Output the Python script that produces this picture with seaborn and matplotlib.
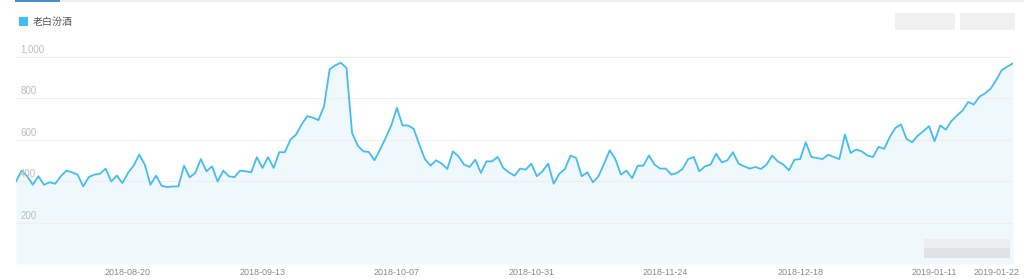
import matplotlib
matplotlib.use("Agg")
import matplotlib.pyplot as plt
import matplotlib.transforms as mtransforms
from matplotlib.patches import Rectangle, Patch
import pandas as pd
import seaborn as sns

# ---------------- data ----------------
series_name = "老白汾酒"
start_date = "2018-07-31"
values = [
    398, 450, 423, 382, 423, 382, 394, 387, 423, 450,
    442, 431, 374, 419, 431, 435, 460, 398, 426, 390,
    439, 474, 527, 479, 382, 426, 377, 371, 374, 374,
    474, 418, 439, 506, 447, 471, 398, 450, 423, 419,
    450, 447, 442, 515, 463, 515, 463, 539, 539, 600,
    624, 673, 713, 705, 694, 761, 939, 958, 970, 945,
    632, 571, 543, 540, 500, 552, 608, 668, 753, 668,
    668, 652, 576, 506, 474, 500, 484, 458, 543, 519,
    479, 468, 503, 439, 495, 495, 516, 463, 442, 426,
    460, 455, 484, 423, 447, 484, 387, 435, 458, 523,
    511, 423, 442, 394, 423, 484, 548, 506, 431, 450,
    414, 474, 474, 523, 479, 460, 460, 431, 439, 458,
    506, 516, 447, 471, 479, 532, 490, 500, 539, 484,
    471, 460, 468, 458, 479, 523, 495, 479, 452, 503,
    506, 587, 516, 511, 506, 527, 516, 506, 624, 535,
    552, 543, 523, 516, 565, 555, 613, 656, 673, 603,
    587, 619, 640, 665, 592, 668, 648, 689, 716, 740,
    781, 769, 806, 823, 845, 887, 935, 952, 968,
]
tick_dates = ["2018-08-20", "2018-09-13", "2018-10-07", "2018-10-31",
              "2018-11-24", "2018-12-18", "2019-01-11", "2019-01-22"]
y_ticks = [200, 400, 600, 800, 1000]
y_tick_labels = ["200", "400", "600", "800", "1,000"]

# ---------------- style ----------------
sns.set_style("white")
plt.rcParams["font.family"] = ["Liberation Sans", "Noto Sans CJK SC", "DejaVu Sans"]

LINE = "#45bdee"
FILL = "#eff8fd"

dates = pd.date_range(start_date, periods=len(values), freq="D")
df = pd.DataFrame({"date": dates, "value": values})

W, H = 1024, 279
fig = plt.figure(figsize=(W / 100, H / 100), dpi=100)
ax = fig.add_axes([16 / W, 15 / H, 997 / W, 224 / H])

ax.fill_between(df["date"], df["value"], 0, color=FILL, lw=0, zorder=1)
for v in y_ticks:
    ax.axhline(v, color="#efefef", lw=0.8, zorder=2)
sns.lineplot(data=df, x="date", y="value", ax=ax, color=LINE, lw=1.3,
             zorder=3, solid_joinstyle="round", solid_capstyle="round")

ax.set_xlim(dates[0], dates[-1])
ax.set_ylim(0, 1080)
for s in ax.spines.values():
    s.set_visible(False)
ax.set_xlabel("")
ax.set_ylabel("")
ax.set_yticks([])
ax.set_xticks(pd.to_datetime(tick_dates))
ax.set_xticklabels(tick_dates, fontsize=6.5, color="#8a8a8a")
ax.tick_params(axis="x", length=0, pad=3)

trans = mtransforms.blended_transform_factory(ax.transAxes, ax.transData)
for v, lbl in zip(y_ticks, y_tick_labels):
    ax.annotate(lbl, xy=(0, v), xycoords=trans, xytext=(3.0, 1.2),
                textcoords="offset points", ha="left", va="bottom",
                fontsize=7, color="#bdbdbd", zorder=4)

# legend
fig.legend(handles=[Patch(facecolor="#3ebff0", edgecolor="none", label=series_name)],
           loc="upper left", bbox_to_anchor=(19 / W, 1 - 17 / H),
           frameon=False, handlelength=0.9, handleheight=0.9,
           handletextpad=0.5, borderpad=0, borderaxespad=0,
           prop={"family": ["Noto Sans CJK SC"], "size": 7.2}, labelcolor="#555555")

# top tab indicator and divider
fig.add_artist(Rectangle((60 / W, 1 - 1.5 / H), (W - 60) / W, 1 / H,
                         transform=fig.transFigure, color="#eeeeee", lw=0))
fig.add_artist(Rectangle((15 / W, 1 - 2.0 / H), 45 / W, 2.0 / H,
                         transform=fig.transFigure, color="#4a8fd6", lw=0))

# blurred watermark blocks
for x0, x1 in [(895, 955), (960, 1015)]:
    fig.add_artist(Rectangle((x0 / W, 1 - 30 / H), (x1 - x0) / W, 17 / H,
                             transform=fig.transFigure, color="#f0f0f0", lw=0))
fig.add_artist(Rectangle((924 / W, 1 - 248 / H), 86 / W, 9 / H,
                         transform=fig.transFigure, color="#eceef1", lw=0))
fig.add_artist(Rectangle((924 / W, 1 - 258 / H), 86 / W, 10 / H,
                         transform=fig.transFigure, color="#e0e2e6", lw=0))

fig.savefig("out.png", dpi=100, facecolor="white")
